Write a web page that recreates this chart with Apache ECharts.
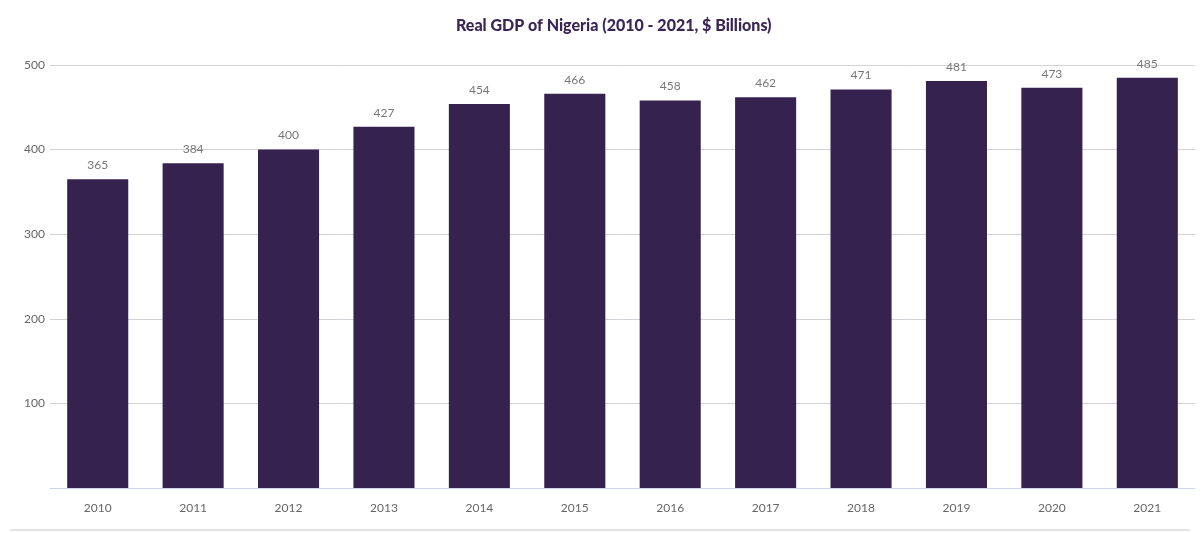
<!DOCTYPE html>
<html><head><meta charset="utf-8">
<script src="https://cdn.jsdelivr.net/npm/echarts@6/dist/echarts.min.js"></script>
<style>html,body{margin:0;padding:0;background:#fff}#c{width:1202px;height:533px}</style>
</head><body><div id="c"></div>
<script>
const years = ['2010','2011','2012','2013','2014','2015','2016','2017','2018','2019','2020','2021'];
const gdp = [365,384,400,427,454,466,458,462,471,481,473,485];
const yTicks = [0,100,200,300,400,500];
const title = 'Real GDP of Nigeria (2010 - 2021, $ Billions)';
const FONT = 'Lato, "Open Sans", sans-serif';
const chart = echarts.init(document.getElementById('c'), null, {renderer:'canvas'});
chart.setOption({
  animation:false,
  title:{text:title,left:451,top:13,textStyle:{fontFamily:FONT,fontSize:16,fontWeight:900,color:'#3a2655'}},
  grid:{left:50,right:7,top:65,bottom:45,containLabel:false},
  xAxis:{type:'category',data:years,
    axisLine:{lineStyle:{color:'#ccd6eb',width:1}},axisTick:{show:false},
    axisLabel:{color:'#666',fontFamily:FONT,fontSize:12,margin:14}},
  yAxis:{type:'value',min:yTicks[0],max:yTicks[yTicks.length-1],interval:100,
    axisLine:{show:false},axisTick:{show:false},
    splitLine:{lineStyle:{color:'#cfd3d8',width:1}},
    axisLabel:{color:'#666',fontFamily:FONT,fontSize:12,margin:5,
      formatter:v => v === 0 ? '' : String(v)}},
  series:[{type:'bar',data:gdp,barWidth:'64%',itemStyle:{color:'#35224f'},
    label:{show:true,position:'top',distance:8,color:'#777',fontFamily:FONT,fontSize:12}}],
  graphic:[{type:'line',shape:{x1:10,y1:530,x2:1190,y2:530},style:{stroke:'#e3e3e3',lineWidth:2}}]
});
</script></body></html>
